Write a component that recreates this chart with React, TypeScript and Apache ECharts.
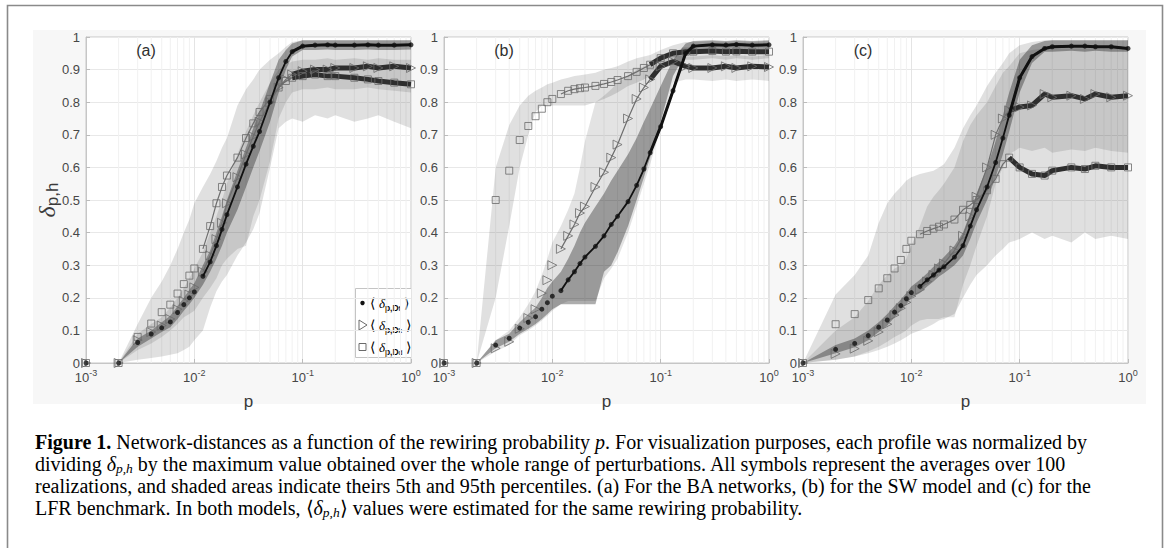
import React, { useEffect, useRef } from "react";
import * as echarts from "echarts";

// rewiring probabilities (x values)
const P = [0.001, 0.002, 0.003, 0.004, 0.005, 0.006, 0.007, 0.008, 0.009, 0.01, 0.012, 0.014, 0.016, 0.018, 0.02, 0.025, 0.03, 0.035, 0.04, 0.05, 0.06, 0.07, 0.08, 0.1, 0.13, 0.17, 0.2, 0.3, 0.4, 0.5, 0.7, 1.0];

// ---- panel (a) BA ----
const A_F = [0, 0, 0.063, 0.089, 0.108, 0.126, 0.155, 0.179, 0.2, 0.218, 0.266, 0.31, 0.36, 0.41, 0.455, 0.54, 0.61, 0.665, 0.71, 0.8, 0.875, 0.925, 0.955, 0.972, 0.975, 0.976, 0.975, 0.975, 0.976, 0.975, 0.975, 0.976];
const A_K = [0, 0, 0.07, 0.095, 0.115, 0.135, 0.165, 0.19, 0.21, 0.232, 0.28, 0.33, 0.38, 0.43, 0.49, 0.57, 0.64, 0.695, 0.74, 0.8, 0.845, 0.87, 0.885, 0.895, 0.9, 0.9, 0.905, 0.905, 0.91, 0.905, 0.91, 0.905];
const A_D = [0, 0, 0.08, 0.121, 0.156, 0.179, 0.213, 0.242, 0.268, 0.29, 0.35, 0.42, 0.49, 0.54, 0.575, 0.63, 0.69, 0.735, 0.77, 0.81, 0.845, 0.865, 0.875, 0.88, 0.885, 0.88, 0.88, 0.875, 0.87, 0.865, 0.86, 0.855];
const A_F_LO = [0, 0, 0.05, 0.075, 0.095, 0.11, 0.135, 0.16, 0.18, 0.2, 0.24, 0.28, 0.32, 0.36, 0.4, 0.47, 0.54, 0.6, 0.65, 0.74, 0.83, 0.9, 0.94, 0.96, 0.96, 0.962, 0.96, 0.96, 0.962, 0.96, 0.96, 0.962];
const A_F_HI = [0, 0, 0.075, 0.1, 0.125, 0.145, 0.175, 0.2, 0.225, 0.245, 0.3, 0.345, 0.4, 0.45, 0.5, 0.59, 0.66, 0.72, 0.77, 0.86, 0.93, 0.96, 0.98, 0.99, 0.99, 0.99, 0.99, 0.99, 0.99, 0.99, 0.99, 0.99];
const A_K_LO = [0, 0, 0.04, 0.06, 0.08, 0.1, 0.12, 0.14, 0.15, 0.16, 0.2, 0.23, 0.26, 0.3, 0.32, 0.35, 0.36, 0.45, 0.5, 0.62, 0.75, 0.8, 0.83, 0.84, 0.84, 0.845, 0.84, 0.84, 0.845, 0.84, 0.835, 0.83];
const A_K_HI = [0, 0, 0.09, 0.12, 0.14, 0.17, 0.2, 0.23, 0.26, 0.29, 0.34, 0.4, 0.45, 0.5, 0.55, 0.64, 0.71, 0.76, 0.8, 0.86, 0.9, 0.915, 0.925, 0.93, 0.93, 0.935, 0.93, 0.935, 0.93, 0.935, 0.93, 0.93];
const A_D_LO = [0, 0, 0.01, 0.015, 0.02, 0.025, 0.03, 0.04, 0.05, 0.07, 0.1, 0.17, 0.22, 0.25, 0.27, 0.33, 0.37, 0.41, 0.46, 0.6, 0.72, 0.74, 0.75, 0.74, 0.76, 0.75, 0.76, 0.74, 0.75, 0.76, 0.74, 0.72];
const A_D_HI = [0, 0, 0.12, 0.2, 0.25, 0.3, 0.35, 0.4, 0.44, 0.49, 0.54, 0.58, 0.62, 0.66, 0.69, 0.79, 0.84, 0.87, 0.9, 0.93, 0.95, 0.97, 0.985, 0.99, 0.99, 0.99, 0.99, 0.99, 0.99, 0.99, 0.99, 0.99];

// ---- panel (b) SW ----
const B_F = [0, 0, 0.055, 0.076, 0.107, 0.125, 0.142, 0.165, 0.185, 0.205, 0.222, 0.255, 0.28, 0.305, 0.325, 0.358, 0.39, 0.425, 0.45, 0.495, 0.545, 0.595, 0.645, 0.725, 0.835, 0.95, 0.972, 0.976, 0.975, 0.977, 0.975, 0.976];
const B_K = [0, 0, 0.045, 0.065, 0.105, 0.138, 0.165, 0.214, 0.254, 0.3, 0.35, 0.39, 0.425, 0.46, 0.48, 0.54, 0.585, 0.63, 0.67, 0.75, 0.81, 0.845, 0.87, 0.91, 0.925, 0.91, 0.905, 0.905, 0.91, 0.905, 0.91, 0.908];
const B_D = [0, 0, 0.5, 0.59, 0.684, 0.727, 0.757, 0.78, 0.8, 0.81, 0.825, 0.835, 0.84, 0.843, 0.845, 0.85, 0.856, 0.862, 0.868, 0.88, 0.893, 0.905, 0.915, 0.935, 0.95, 0.955, 0.955, 0.957, 0.955, 0.956, 0.955, 0.955];
const B_F_LO = [0, 0, 0.045, 0.065, 0.09, 0.105, 0.12, 0.135, 0.15, 0.165, 0.18, 0.18, 0.18, 0.18, 0.18, 0.18, 0.28, 0.3, 0.34, 0.42, 0.5, 0.57, 0.63, 0.74, 0.88, 0.95, 0.96, 0.962, 0.96, 0.962, 0.96, 0.962];
const B_F_HI = [0, 0, 0.07, 0.09, 0.125, 0.15, 0.17, 0.2, 0.23, 0.25, 0.28, 0.32, 0.36, 0.4, 0.43, 0.48, 0.52, 0.56, 0.59, 0.64, 0.69, 0.74, 0.78, 0.85, 0.93, 0.98, 0.988, 0.99, 0.988, 0.99, 0.988, 0.99];
const B_K_LO = [0, 0, 0.035, 0.055, 0.085, 0.1, 0.115, 0.13, 0.145, 0.16, 0.18, 0.19, 0.19, 0.19, 0.19, 0.19, 0.26, 0.29, 0.32, 0.4, 0.48, 0.55, 0.61, 0.72, 0.86, 0.87, 0.87, 0.865, 0.87, 0.865, 0.87, 0.865];
const B_K_HI = [0, 0, 0.07, 0.1, 0.14, 0.18, 0.22, 0.27, 0.32, 0.37, 0.42, 0.47, 0.52, 0.6, 0.68, 0.8, 0.82, 0.84, 0.86, 0.88, 0.9, 0.91, 0.92, 0.94, 0.945, 0.94, 0.94, 0.945, 0.94, 0.945, 0.94, 0.945];
const B_D_LO = [0, 0, 0.2, 0.42, 0.6, 0.7, 0.77, 0.79, 0.79, 0.79, 0.79, 0.79, 0.79, 0.79, 0.79, 0.8, 0.81, 0.82, 0.83, 0.85, 0.86, 0.87, 0.88, 0.9, 0.92, 0.93, 0.93, 0.935, 0.93, 0.935, 0.93, 0.935];
const B_D_HI = [0, 0, 0.6, 0.73, 0.79, 0.82, 0.835, 0.845, 0.855, 0.86, 0.87, 0.875, 0.88, 0.883, 0.885, 0.89, 0.9, 0.905, 0.91, 0.925, 0.935, 0.94, 0.945, 0.96, 0.975, 0.985, 0.985, 0.988, 0.985, 0.988, 0.985, 0.988];

// ---- panel (c) LFR ----
const C_F = [0, 0.042, 0.06, 0.084, 0.11, 0.132, 0.156, 0.176, 0.197, 0.216, 0.235, 0.255, 0.27, 0.285, 0.295, 0.325, 0.36, 0.42, 0.47, 0.54, 0.615, 0.69, 0.76, 0.875, 0.94, 0.965, 0.97, 0.972, 0.972, 0.97, 0.97, 0.965];
const C_K = [0, 0.028, 0.044, 0.068, 0.095, 0.119, 0.147, 0.168, 0.186, 0.205, 0.225, 0.25, 0.27, 0.29, 0.305, 0.345, 0.39, 0.45, 0.51, 0.6, 0.7, 0.75, 0.775, 0.785, 0.79, 0.825, 0.815, 0.82, 0.81, 0.825, 0.815, 0.82];
const C_D = [0, 0.119, 0.15, 0.193, 0.229, 0.26, 0.29, 0.316, 0.35, 0.375, 0.395, 0.405, 0.412, 0.418, 0.425, 0.44, 0.47, 0.485, 0.5, 0.53, 0.565, 0.61, 0.63, 0.6, 0.58, 0.575, 0.59, 0.6, 0.595, 0.605, 0.6, 0.6];
const C_F_LO = [0, 0.03, 0.048, 0.07, 0.095, 0.115, 0.14, 0.16, 0.18, 0.2, 0.215, 0.235, 0.25, 0.265, 0.275, 0.3, 0.33, 0.38, 0.43, 0.5, 0.57, 0.64, 0.71, 0.83, 0.92, 0.955, 0.955, 0.958, 0.955, 0.958, 0.955, 0.955];
const C_F_HI = [0, 0.055, 0.075, 0.1, 0.125, 0.15, 0.175, 0.195, 0.215, 0.235, 0.255, 0.275, 0.295, 0.31, 0.325, 0.36, 0.4, 0.46, 0.52, 0.6, 0.68, 0.76, 0.83, 0.93, 0.975, 0.988, 0.99, 0.99, 0.99, 0.99, 0.99, 0.99];
const C_K_LO = [0, 0.01, 0.02, 0.035, 0.05, 0.065, 0.08, 0.09, 0.1, 0.115, 0.13, 0.135, 0.135, 0.135, 0.14, 0.14, 0.24, 0.3, 0.36, 0.45, 0.55, 0.6, 0.64, 0.66, 0.65, 0.66, 0.645, 0.655, 0.65, 0.66, 0.65, 0.645];
const C_K_HI = [0, 0.1, 0.14, 0.19, 0.24, 0.27, 0.29, 0.3, 0.32, 0.36, 0.42, 0.48, 0.51, 0.53, 0.55, 0.6, 0.68, 0.73, 0.76, 0.8, 0.85, 0.89, 0.91, 0.95, 0.96, 0.965, 0.965, 0.965, 0.965, 0.965, 0.965, 0.965];
const C_D_LO = [0, 0.01, 0.02, 0.03, 0.04, 0.05, 0.06, 0.07, 0.08, 0.09, 0.1, 0.11, 0.12, 0.13, 0.135, 0.15, 0.2, 0.24, 0.27, 0.3, 0.33, 0.35, 0.37, 0.38, 0.4, 0.38, 0.39, 0.37, 0.4, 0.38, 0.39, 0.38];
const C_D_HI = [0, 0.21, 0.27, 0.33, 0.43, 0.49, 0.52, 0.54, 0.56, 0.57, 0.58, 0.585, 0.59, 0.6, 0.61, 0.66, 0.72, 0.76, 0.79, 0.85, 0.89, 0.92, 0.95, 0.975, 0.985, 0.99, 0.99, 0.99, 0.99, 0.99, 0.99, 0.99];

// axis decoration
const Y_TICKS_INTERVAL = 0.1;
const MINOR_X = [0.002, 0.003, 0.004, 0.005, 0.006, 0.007, 0.008, 0.009, 0.02, 0.03, 0.04, 0.05, 0.06, 0.07, 0.08, 0.09, 0.2, 0.3, 0.4, 0.5, 0.6, 0.7, 0.8, 0.9];
const PANEL_LABELS = ["(a)", "(b)", "(c)"];
const LEGEND_SUBS = ["f", "k", "d"];

const PANELS = [
  { f: A_F, k: A_K, d: A_D, fLo: A_F_LO, fHi: A_F_HI, kLo: A_K_LO, kHi: A_K_HI, dLo: A_D_LO, dHi: A_D_HI },
  { f: B_F, k: B_K, d: B_D, fLo: B_F_LO, fHi: B_F_HI, kLo: B_K_LO, kHi: B_K_HI, dLo: B_D_LO, dHi: B_D_HI },
  { f: C_F, k: C_K, d: C_D, fLo: C_F_LO, fHi: C_F_HI, kLo: C_K_LO, kHi: C_K_HI, dLo: C_D_LO, dHi: C_D_HI },
];

const GRID_LEFT = [86, 444, 803];
const GRID_TOP = 37;
const GRID_W = 325;
const GRID_H = 326;
const SANS = "'Liberation Sans', Arial, Helvetica, sans-serif";
const SERIF = "'Liberation Serif', 'Times New Roman', serif";
const TICK_COLOR = "#474747";

function minorGridSeries(i: number) {
  return {
    type: "custom",
    xAxisIndex: i,
    yAxisIndex: i,
    silent: true,
    z: 0,
    clip: true,
    data: MINOR_X.map((x) => [x, 0.5]),
    renderItem: (_params: any, api: any) => {
      const x = api.value(0);
      const a = api.coord([x, 0]);
      const b = api.coord([x, 1]);
      return {
        type: "line",
        shape: { x1: a[0], y1: a[1], x2: b[0], y2: b[1] },
        style: { stroke: "#f1f1f1", lineWidth: 1 },
      };
    },
  };
}

function bandSeries(i: number, lo: number[], hi: number[], fill: string) {
  return {
    type: "custom",
    xAxisIndex: i,
    yAxisIndex: i,
    silent: true,
    z: 1,
    clip: true,
    data: [[0.01, 0.5]],
    renderItem: (_params: any, api: any) => {
      const top = P.map((p, j) => api.coord([p, hi[j]]));
      const bot = P.map((p, j) => api.coord([p, lo[j]])).reverse();
      return {
        type: "polygon",
        shape: { points: top.concat(bot) },
        style: { fill, stroke: "none" },
      };
    },
  };
}

function markerSeries(i: number, vals: number[], kind: "f" | "k" | "d") {
  const data = P.map((p, j) => [p, vals[j]]);
  const isF = kind === "f";
  const base = { xAxisIndex: i, yAxisIndex: i, silent: true };
  const thin = {
    ...base,
    type: "line",
    data: data.filter((d) => d[0] >= 0.012),
    symbol: "none",
    lineStyle: { width: isF ? 1.8 : 1.2, color: isF ? "#111" : "#6e6e6e" },
    z: isF ? 5 : 3,
  };
  const thick = {
    ...base,
    type: "line",
    data: data.filter((d) => d[0] >= 0.08),
    symbol: "none",
    lineStyle: { width: isF ? 3 : 5, color: isF ? "#111" : "#2e2e2e" },
    z: isF ? 5 : 4,
  };
  const pts = {
    ...base,
    type: "scatter",
    data,
    symbol: isF ? "circle" : kind === "k" ? "triangle" : "rect",
    symbolSize: isF ? 5 : kind === "k" ? 9 : 7,
    symbolRotate: kind === "k" ? -90 : 0,
    itemStyle: isF
      ? { color: "#111" }
      : { color: "rgba(255,255,255,0)", borderColor: "#6a6a6a", borderWidth: 1 },
    z: isF ? 6 : 4,
  };
  return [thin, thick, pts];
}

function buildOption() {
  const grids: any[] = [];
  const xAxes: any[] = [];
  const yAxes: any[] = [];
  const series: any[] = [];

  PANELS.forEach((pn, i) => {
    grids.push({
      left: GRID_LEFT[i],
      top: GRID_TOP,
      width: GRID_W,
      height: GRID_H,
      show: true,
      backgroundColor: "#ffffff",
      borderColor: "#c6c6c6",
      borderWidth: 1,
    });
    xAxes.push({
      gridIndex: i,
      type: "log",
      logBase: 10,
      min: 0.001,
      max: 1,
      name: "p",
      nameLocation: "middle",
      nameGap: 30,
      nameTextStyle: { fontSize: 17, color: "#3a3a3a", fontFamily: SANS },
      axisLine: { show: true, lineStyle: { color: "#c6c6c6" } },
      axisTick: { show: true, inside: true, length: 4, lineStyle: { color: "#bcbcbc" } },
      splitLine: { show: true, lineStyle: { color: "#e4e4e4" } },
      axisLabel: {
        margin: 5,
        formatter: (v: number) => `{b|10}{s|${Math.round(Math.log10(v))}}`,
        rich: {
          b: { fontSize: 13, color: TICK_COLOR, fontFamily: SANS, lineHeight: 18 },
          s: { fontSize: 9, color: TICK_COLOR, fontFamily: SANS, lineHeight: 9, verticalAlign: "top" },
        },
      },
    });
    yAxes.push({
      gridIndex: i,
      type: "value",
      min: 0,
      max: 1,
      interval: Y_TICKS_INTERVAL,
      axisLine: { show: true, lineStyle: { color: "#c6c6c6" } },
      axisTick: { show: true, inside: true, length: 4, lineStyle: { color: "#bcbcbc" } },
      splitLine: { show: true, lineStyle: { color: "#e8e8e8" } },
      axisLabel: {
        margin: 6,
        fontSize: 13,
        color: TICK_COLOR,
        fontFamily: SANS,
        formatter: (v: number) => (v === 0 ? "0" : Math.abs(v - 1) < 1e-9 ? "1" : v.toFixed(1)),
      },
    });

    series.push(minorGridSeries(i));
    series.push(bandSeries(i, pn.dLo, pn.dHi, "rgba(0,0,0,0.12)"));
    series.push(bandSeries(i, pn.kLo, pn.kHi, "rgba(0,0,0,0.11)"));
    series.push(bandSeries(i, pn.fLo, pn.fHi, "rgba(0,0,0,0.32)"));
    series.push(...markerSeries(i, pn.d, "d"));
    series.push(...markerSeries(i, pn.k, "k"));
    series.push(...markerSeries(i, pn.f, "f"));
  });

  const capBase = { fontSize: 20, fontFamily: SERIF, color: "#231f20", lineHeight: 22 };
  const capRich = {
    n: { ...capBase },
    b: { ...capBase, fontWeight: "bold" },
    i: { ...capBase, fontStyle: "italic" },
    sub: { fontSize: 13.5, fontFamily: SERIF, fontStyle: "italic", color: "#231f20", lineHeight: 12, verticalAlign: "bottom" },
  };
  const CAPTION = [
    "{b|Figure 1.}{n| Network-distances as a function of the rewiring probability }{i|p}{n|. For visualization purposes, each profile was normalized by}",
    "{n|dividing }{i|δ}{sub|p,h}{n| by the maximum value obtained over the whole range of perturbations. All symbols represent the averages over 100}",
    "{n|realizations, and shaded areas indicate theirs 5th and 95th percentiles. (a) For the BA networks, (b) for the SW model and (c) for the}",
    "{n|LFR benchmark. In both models, ⟨}{i|δ}{sub|p,h}{n|⟩ values were estimated for the same rewiring probability.}",
  ];

  const legRich = {
    a: { fontSize: 14, color: "#555", fontFamily: SANS, lineHeight: 18 },
    d: { fontSize: 13, color: "#333", fontFamily: SERIF, fontStyle: "italic", lineHeight: 18 },
    s: { fontSize: 8.5, color: "#333", fontFamily: SANS, fontWeight: "bold", lineHeight: 10, verticalAlign: "bottom" },
    t: { fontSize: 7, color: "#333", fontFamily: SANS, lineHeight: 5, verticalAlign: "bottom" },
  };

  const graphic: any[] = [
    { type: "rect", z: -100, silent: true, shape: { x: 33, y: 30, width: 1113, height: 374 }, style: { fill: "#f7f7f7" } },
    { type: "rect", z: 100, silent: true, shape: { x: 7.5, y: 5.5, width: 1155, height: 560 }, style: { fill: "none", stroke: "#8a8a8a", lineWidth: 1.6 } },
    ...PANEL_LABELS.map((t, i) => ({
      type: "text",
      z: 50,
      silent: true,
      x: GRID_LEFT[i] + 60,
      y: 50,
      style: { text: t, fontSize: 16, fontFamily: SANS, fill: "#2f2f2f", align: "center", verticalAlign: "middle" },
    })),
    {
      type: "text",
      z: 50,
      silent: true,
      x: 47,
      y: 200,
      rotation: Math.PI / 2,
      style: {
        text: "{d|δ}{s|p,h}",
        align: "center",
        verticalAlign: "middle",
        rich: {
          d: { fontSize: 24, fontFamily: SERIF, fontStyle: "italic", fill: "#3a3a3a", lineHeight: 28 },
          s: { fontSize: 17, fontFamily: SANS, fill: "#3a3a3a", lineHeight: 16, verticalAlign: "bottom" },
        },
      },
    },
    {
      type: "group",
      x: 355,
      y: 288,
      z: 60,
      silent: true,
      children: [
        { type: "rect", shape: { x: 0.5, y: 0.5, width: 56, height: 69 }, style: { fill: "#ffffff", stroke: "#c4c4c4", lineWidth: 1 } },
        { type: "circle", shape: { cx: 7.5, cy: 15, r: 2.2 }, style: { fill: "#111" } },
        { type: "polygon", shape: { points: [[4, 32], [4, 42], [12, 37]] }, style: { fill: "none", stroke: "#6a6a6a", lineWidth: 1 } },
        { type: "rect", shape: { x: 4, y: 55.5, width: 7, height: 7 }, style: { fill: "none", stroke: "#6a6a6a", lineWidth: 1 } },
        ...LEGEND_SUBS.map((sub, j) => ({
          type: "text",
          x: 15,
          y: 15 + j * 22,
          style: { text: `{a|⟨ }{d|δ}{s|p,D}{t|${sub}}{a| ⟩}`, verticalAlign: "middle", rich: legRich },
        })),
      ],
    },
    ...CAPTION.map((line, j) => ({
      type: "text",
      z: 50,
      silent: true,
      x: 35,
      y: 442 + j * 22,
      style: { text: line, verticalAlign: "middle", rich: capRich },
    })),
  ];

  return {
    animation: false,
    backgroundColor: "#ffffff",
    grid: grids,
    xAxis: xAxes,
    yAxis: yAxes,
    series,
    graphic,
  };
}

export default function App() {
  const ref = useRef<HTMLDivElement>(null);
  useEffect(() => {
    const chart = echarts.init(ref.current as HTMLDivElement, null, { renderer: "svg" });
    chart.setOption(buildOption() as any);
    return () => chart.dispose();
  }, []);
  return (
    <div
      ref={ref}
      style={{ position: "absolute", left: 0, top: 0, width: 1170, height: 548, background: "#fff" }}
    />
  );
}
